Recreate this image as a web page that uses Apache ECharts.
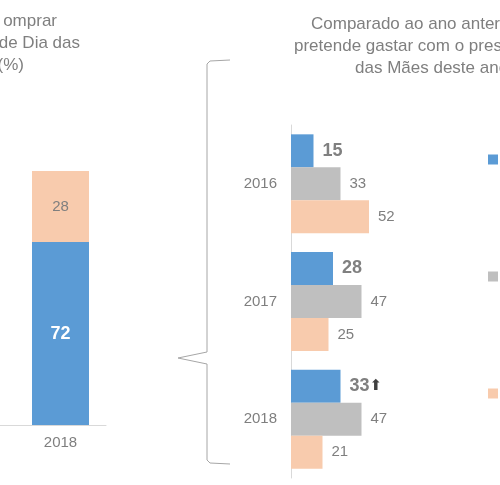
<!DOCTYPE html>
<html><head><meta charset="utf-8">
<script src="https://cdn.jsdelivr.net/npm/echarts@6/dist/echarts.min.js"></script>
<style>html,body{margin:0;padding:0;background:#fff}#c{width:500px;height:485px}</style>
</head><body><div id="c"></div>
<script>
const leftCategories = ['2018'];
const leftSim = [72];
const leftNao = [28];
const rightYears = ['2016', '2017', '2018'];
const seriesNames = ['Com mais', 'Com o mesmo', 'Com menos'];
const valMais = [15, 28, 33];
const valIgual = [33, 47, 47];
const valMenos = [52, 25, 21];

const BLUE = '#5B9BD5', GRAY = '#BFBFBF', PEACH = '#F8CBAD', TXT = '#7F7F7F';
const F = 'Liberation Sans, Arial, sans-serif';
const chart = echarts.init(document.getElementById('c'));
chart.setOption({
  animation: false,
  textStyle: {fontFamily: F},
  grid: [
    {left: 15, width: 91, top: 171, bottom: 60},
    {left: 291, width: 150, top: 125, bottom: 7}
  ],
  xAxis: [
    {gridIndex: 0, type: 'category', data: leftCategories, axisLine: {lineStyle: {color: '#D9D9D9'}}, axisTick: {show: false},
     axisLabel: {color: TXT, fontSize: 15, margin: 10, fontFamily: F}},
    {gridIndex: 1, type: 'value', min: 0, max: 100, show: false}
  ],
  yAxis: [
    {gridIndex: 0, type: 'value', min: 0, max: 100, show: false},
    {gridIndex: 1, type: 'category', data: rightYears, inverse: true, axisLine: {lineStyle: {color: '#D9D9D9'}}, axisTick: {show: false},
     axisLabel: {color: TXT, fontSize: 15, margin: 14, fontFamily: F}}
  ],
  legend: {left: 483, top: 147, orient: 'vertical', itemGap: 102, itemWidth: 10, itemHeight: 10, icon: 'rect',
    textStyle: {color: TXT, fontSize: 15, fontFamily: F}, data: seriesNames},
  series: [
    {type: 'bar', xAxisIndex: 0, yAxisIndex: 0, stack: 'l', data: leftSim, barWidth: 57, itemStyle: {color: BLUE},
     label: {show: true, color: '#fff', fontWeight: 'bold', fontSize: 18, fontFamily: F}},
    {type: 'bar', xAxisIndex: 0, yAxisIndex: 0, stack: 'l', data: leftNao, barWidth: 57, itemStyle: {color: PEACH},
     label: {show: true, color: TXT, fontSize: 15, fontFamily: F}},
    {name: seriesNames[0], type: 'bar', xAxisIndex: 1, yAxisIndex: 1, data: valMais, barWidth: 33, barGap: '0%', itemStyle: {color: BLUE},
     label: {show: true, position: 'right', distance: 9, fontFamily: F,
       formatter: p => p.dataIndex === 2 ? '{b|' + p.value + '}{a|⬆}' : '{b|' + p.value + '}',
       rich: {b: {color: '#808080', fontWeight: 'bold', fontSize: 18, fontFamily: F}, a: {color: '#404040', fontSize: 15, fontFamily: 'DejaVu Sans'}}}},
    {name: seriesNames[1], type: 'bar', xAxisIndex: 1, yAxisIndex: 1, data: valIgual, barWidth: 33, barGap: '0%', itemStyle: {color: GRAY},
     label: {show: true, position: 'right', distance: 9, color: TXT, fontSize: 15, fontFamily: F}},
    {name: seriesNames[2], type: 'bar', xAxisIndex: 1, yAxisIndex: 1, data: valMenos, barWidth: 33, barGap: '0%', itemStyle: {color: PEACH},
     label: {show: true, position: 'right', distance: 9, color: TXT, fontSize: 15, fontFamily: F}}
  ],
  graphic: [
    {type: 'line', shape: {x1: 0, y1: 425.5, x2: 15, y2: 425.5}, style: {stroke: '#D9D9D9', lineWidth: 1}},
    {type: 'circle', shape: {cx: 61, cy: 335, r: 25}, style: {fill: 'none', stroke: '#222', lineWidth: 1, lineDash: [3, 2]}},
    {type: 'text', x: 57, y: 13, style: {text: 'omprar', align: 'right', fill: TXT, fontSize: 17, fontFamily: F}},
    {type: 'text', x: 80, y: 35, style: {text: 'de Dia das', align: 'right', fill: TXT, fontSize: 17, fontFamily: F}},
    {type: 'text', x: 24, y: 57, style: {text: '(%)', align: 'right', fill: TXT, fontSize: 17, fontFamily: F}},
    {type: 'text', x: 311, y: 16, style: {text: 'Comparado ao ano anterior, você', fill: TXT, fontSize: 17, fontFamily: F}},
    {type: 'text', x: 294, y: 38, style: {text: 'pretende gastar com o presente do Dia', fill: TXT, fontSize: 17, fontFamily: F}},
    {type: 'text', x: 355, y: 60, style: {text: 'das Mães deste ano:', fill: TXT, fontSize: 17, fontFamily: F}},
    {type: 'polyline', shape: {points: [[230, 60], [210, 61], [207, 64], [207, 352], [178, 358], [207, 364], [207, 460], [210, 463], [230, 464]]},
     style: {fill: 'none', stroke: '#A6A6A6', lineWidth: 1}}
  ]
});
</script></body></html>
